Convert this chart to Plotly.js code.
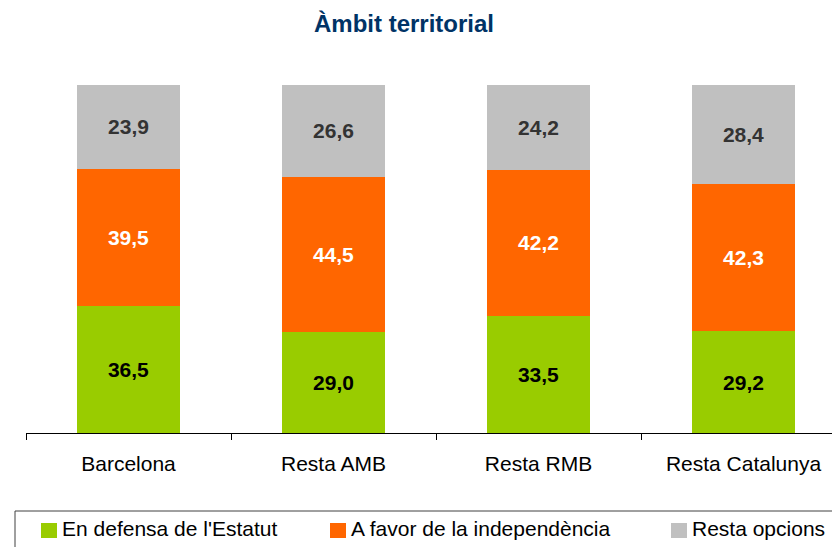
<!DOCTYPE html>
<html>
<head>
<meta charset="utf-8">
<script src="https://cdn.plot.ly/plotly-3.0.1.min.js"></script>
<style>html,body{margin:0;padding:0;background:#fff;}#chart{width:832px;height:547px;}</style>
</head>
<body>
<div id="chart"></div>
<script>
const categories = ["Barcelona", "Resta AMB", "Resta RMB", "Resta Catalunya"];
const seriesNames = ["En defensa de l'Estatut", "A favor de la independència", "Resta opcions"];
const estatut = [36.5, 29.0, 33.5, 29.2];
const independencia = [39.5, 44.5, 42.2, 42.3];
const restaOpcions = [23.9, 26.6, 24.2, 28.4];
const titleText = "Àmbit territorial";

const colors = ["#99CC00", "#FF6600", "#C0C0C0"];
const labelColors = ["#000000", "#FFFFFF", "#333333"];
const values = [estatut, independencia, restaOpcions];

const W = 832, H = 547;
const L = 26, R = 0, T = 85, B = 114;
const pw = W - L - R, ph = H - T - B;
const px2x = p => (p - L) / pw;
const py2y = p => (H - B - p) / ph;

const FONT = "Liberation Sans, Arial, sans-serif";

const traces = values.map((v, i) => ({
  type: 'bar',
  name: seriesNames[i],
  x: categories,
  y: v,
  marker: {color: colors[i], line: {width: 0}},
  texttemplate: '%{y:.1f}',
  textposition: 'inside',
  insidetextanchor: 'middle',
  constraintext: 'none',
  textangle: 0,
  textfont: {family: FONT, size: 21, color: labelColors[i], weight: 'bold'},
  hoverinfo: 'skip',
  showlegend: false
}));

// manual legend
const legX = [41, 330, 671];
const shapes = [{
  type: 'rect', xref: 'paper', yref: 'paper',
  x0: px2x(15), x1: px2x(845), y0: py2y(511), y1: py2y(580),
  line: {color: '#404040', width: 1}, fillcolor: 'rgba(0,0,0,0)'
}];
const annotations = [];
seriesNames.forEach((n, i) => {
  shapes.push({
    type: 'rect', xref: 'paper', yref: 'paper',
    x0: px2x(legX[i]), x1: px2x(legX[i] + 16), y0: py2y(538), y1: py2y(523),
    line: {width: 0}, fillcolor: colors[i]
  });
  annotations.push({
    xref: 'paper', yref: 'paper', x: px2x(legX[i] + 19), y: py2y(528),
    xanchor: 'left', yanchor: 'middle', showarrow: false, text: n,
    font: {family: FONT, size: 21, color: '#000000'}
  });
});

const layout = {
  width: W, height: H,
  margin: {l: L, r: R, t: T, b: B, pad: 0},
  paper_bgcolor: '#FFFFFF', plot_bgcolor: '#FFFFFF',
  barmode: 'stack',
  bargap: 0.493,
  separators: ',.',
  showlegend: false,
  title: {
    text: '<b>' + titleText + '</b>',
    font: {family: FONT, size: 24, color: '#003366'},
    xref: 'container', yref: 'container',
    x: 404 / W, y: 1 - 24 / H, xanchor: 'center', yanchor: 'middle'
  },
  xaxis: {
    type: 'category',
    range: [-0.5, -0.5 + pw / 205],
    showline: true, linecolor: '#000000', linewidth: 1,
    ticks: 'outside', tickson: 'boundaries', ticklen: 6, tickcolor: '#000000', tickwidth: 1,
    ticklabelstandoff: 12,
    tickfont: {family: FONT, size: 21, color: '#000000'},
    showgrid: false, zeroline: false, fixedrange: true
  },
  yaxis: {
    range: [0, 100], visible: false, showgrid: false, zeroline: false, fixedrange: true
  },
  shapes: shapes,
  annotations: annotations
};

Plotly.newPlot('chart', traces, layout, {displayModeBar: false, staticPlot: true});
</script>
</body>
</html>
